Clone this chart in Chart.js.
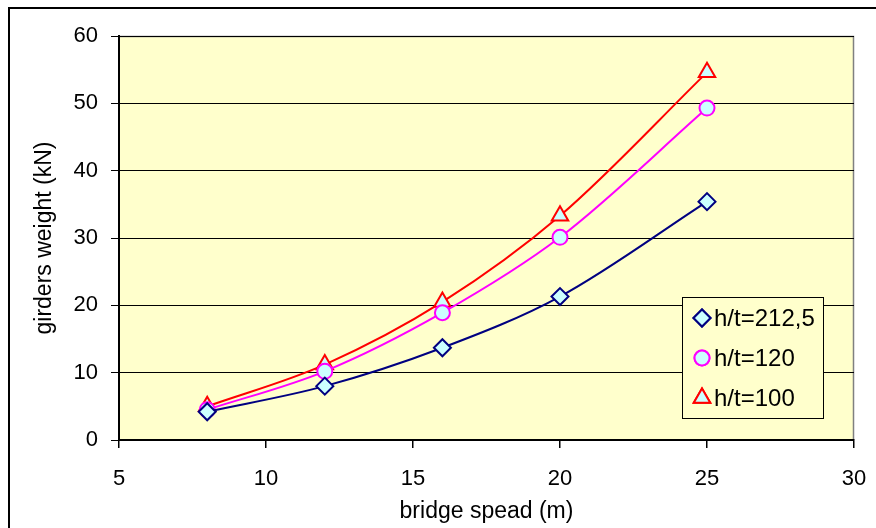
<!DOCTYPE html>
<html>
<head>
<meta charset="utf-8">
<script src="https://cdn.jsdelivr.net/npm/chart.js@4"></script>
<style>
  html, body { margin: 0; padding: 0; background: #fff; }
  #wrap { width: 876px; height: 528px; position: relative; }
</style>
</head>
<body>
<div id="wrap"><canvas id="chart" width="876" height="528"></canvas></div>
<script>
// bridge span (m)
var spans = [8, 12, 16, 20, 25];
// girders weight (kN)
var ht212 = [4.2, 8.0, 13.7, 21.3, 35.4];
var ht120 = [4.5, 10.2, 18.9, 30.1, 49.3];
var ht100 = [5.0, 11.2, 20.5, 33.3, 54.6];
var seriesNames = ['h/t=212,5', 'h/t=120', 'h/t=100'];
var xTicks = [5, 10, 15, 20, 25, 30];
var yTicks = [0, 10, 20, 30, 40, 50, 60];

function toPoints(ys) {
    return spans.map(function(x, i) { return { x: x, y: ys[i] }; });
}

var FONT = 'Liberation Sans, Arial, sans-serif';
var fill = '#ccffff';

var series = [
    { label: seriesNames[0], data: toPoints(ht212), color: '#000080', style: 'rectRot', r: 8.5 },
    { label: seriesNames[1], data: toPoints(ht120), color: '#ff00ff', style: 'circle', r: 7.5 },
    { label: seriesNames[2], data: toPoints(ht100), color: '#ff0000', style: 'triangle', r: 9.5 }
];

// frame, plot background and the legend box
var framePlugin = {
    id: 'frame',
    beforeDraw: function(chart) {
        var c = chart.ctx, a = chart.chartArea;
        c.save();
        c.fillStyle = '#ffffcc';
        c.fillRect(a.left, a.top, a.right - a.left, a.bottom - a.top);
        c.strokeStyle = '#808080';
        c.lineWidth = 1.5;
        c.beginPath();
        c.moveTo(a.left, a.top + 0.5);
        c.lineTo(a.right - 0.5, a.top + 0.5);
        c.lineTo(a.right - 0.5, a.bottom);
        c.stroke();
        c.strokeStyle = '#000';
        c.lineWidth = 2;
        c.strokeRect(9, 8, 1000, 1000);
        c.restore();
    },
    afterDraw: function(chart) {
        var c = chart.ctx, a = chart.chartArea;
        var bx = a.right - 172, by = a.bottom - 143, bw = 141, bh = 121;
        c.save();
        c.fillStyle = '#ffffcc';
        c.fillRect(bx, by, bw, bh);
        c.strokeStyle = '#000';
        c.lineWidth = 1;
        c.strokeRect(bx + 0.5, by + 0.5, bw, bh);
        c.font = '24px ' + FONT;
        c.textBaseline = 'middle';
        series.forEach(function(s, i) {
            var cy = by + 21 + i * 40;
            c.strokeStyle = s.color;
            c.fillStyle = fill;
            c.lineWidth = 2;
            Chart.helpers.drawPoint(c, { pointStyle: s.style, radius: s.r, borderWidth: 2 }, bx + 20, cy);
            c.fill();
            c.stroke();
            c.fillStyle = '#000';
            c.fillText(s.label, bx + 32, cy + 1);
        });
        c.restore();
    }
};

var ctx = document.getElementById('chart').getContext('2d');
var chart = new Chart(ctx, {
    type: 'scatter',
    data: {
        datasets: series.map(function(s) {
            return {
                label: s.label,
                data: s.data,
                showLine: true,
                cubicInterpolationMode: 'monotone',
                borderColor: s.color,
                borderWidth: 2,
                backgroundColor: fill,
                pointStyle: s.style,
                pointRadius: s.r,
                pointBorderWidth: 2,
                pointBorderColor: s.color,
                pointBackgroundColor: fill
            };
        })
    },
    options: {
        responsive: false,
        animation: false,
        layout: { padding: { top: 36, right: 22, left: 0, bottom: 0 } },
        plugins: {
            legend: { display: false },
            tooltip: { enabled: false }
        },
        scales: {
            x: {
                type: 'linear',
                min: 5,
                max: 30,
                afterBuildTicks: function(scale) {
                    scale.ticks = xTicks.map(function(v) { return { value: v }; });
                },
                afterFit: function(scale) {
                    scale.height = 88;
                    scale.paddingLeft = 0;
                    scale.paddingRight = 0;
                },
                grid: { drawOnChartArea: false, drawTicks: true, tickLength: 8, color: '#000', lineWidth: 1.5 },
                border: { color: '#000', width: 2 },
                ticks: { color: '#000', font: { family: FONT, size: 22 }, padding: 18, maxRotation: 0 },
                title: { display: true, text: 'bridge spead (m)', color: '#000', font: { family: FONT, size: 23 }, padding: { top: 0, bottom: 3 } }
            },
            y: {
                type: 'linear',
                min: 0,
                max: 60,
                afterBuildTicks: function(scale) {
                    scale.ticks = yTicks.map(function(v) { return { value: v }; });
                },
                afterFit: function(scale) {
                    scale.width = 119;
                    scale.paddingTop = 0;
                    scale.paddingBottom = 0;
                },
                grid: { color: '#000', lineWidth: 1, drawTicks: true, tickLength: 8 },
                border: { color: '#000', width: 2 },
                ticks: { color: '#000', font: { family: FONT, size: 22 }, padding: 13 },
                title: { display: true, text: 'girders weight (kN)', color: '#000', font: { family: FONT, size: 23 }, padding: { top: 31, bottom: 0 } }
            }
        }
    },
    plugins: [framePlugin]
});
</script>
</body>
</html>
